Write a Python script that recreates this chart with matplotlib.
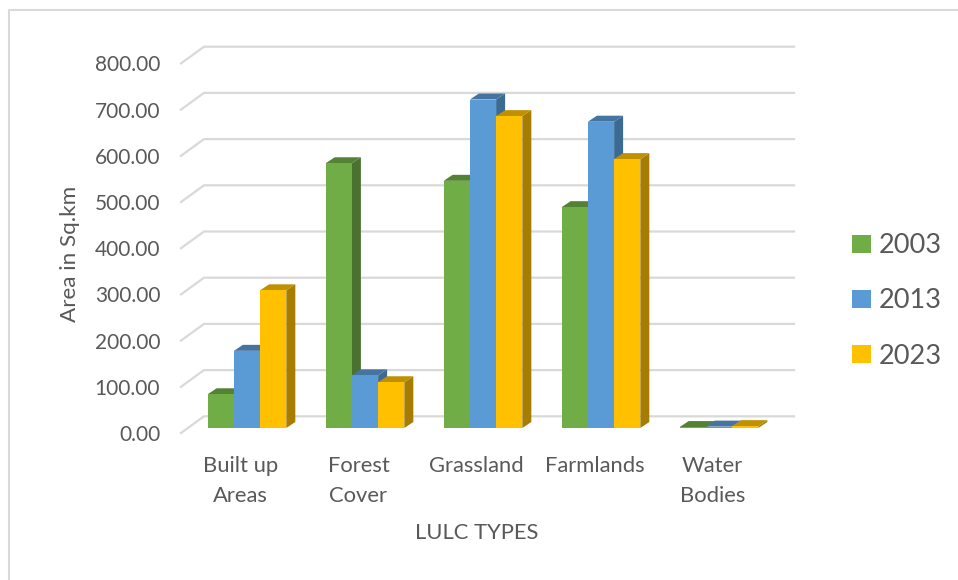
#!/usr/bin/env python3
"""Land use / land cover areas as an Excel style 3-D clustered column chart."""

import numpy as np
import matplotlib
matplotlib.use("Agg")
import matplotlib.pyplot as plt
from matplotlib.lines import Line2D
from matplotlib.patches import Polygon, Rectangle

categories = ["Built up\nAreas", "Forest\nCover", "Grassland", "Farmlands", "Water\nBodies"]
years = ["2003", "2013", "2023"]
area_2003 = [73, 573, 535, 478, 2]
area_2013 = [167, 114, 711, 663, 3]
area_2023 = [298, 99, 675, 582, 4]
y_ticks = [0, 100, 200, 300, 400, 500, 600, 700, 800]

W, H = 958, 580
PX_PER_CAT = 118.0
PX_PER_VAL = 0.462
Y_MIN = -50  # room under the floor so the front tick labels still get drawn


def dx(px):
    return px / PX_PER_CAT


def dy(px):
    return px / PX_PER_VAL


def draw_bar(ax, x, width, value, colors, z):
    front, side, top = colors
    depth_x, depth_y = dx(9), dy(6)
    ax.add_patch(Polygon([(x + width, 0), (x + width + depth_x, depth_y),
                          (x + width + depth_x, value + depth_y), (x + width, value)],
                         closed=True, facecolor=side, edgecolor="none", zorder=z))
    ax.add_patch(Polygon([(x, value), (x + depth_x, value + depth_y),
                          (x + width + depth_x, value + depth_y), (x + width, value)],
                         closed=True, facecolor=top, edgecolor="none", zorder=z))
    ax.bar(x, value, width, align="edge", color=front, edgecolor="none", zorder=z + 0.1)


def main():
    plt.rcParams["font.family"] = ["Lato", "DejaVu Sans"]
    text_color = "#595959"
    grid_color = "#D9D9D9"

    fig = plt.figure(figsize=(W / 100, H / 100), dpi=100)
    bottom_px = 428 - Y_MIN * PX_PER_VAL
    ax = fig.add_axes([188 / W, (H - bottom_px) / H, 590 / W, (800 - Y_MIN) * PX_PER_VAL / H])
    ax.patch.set_visible(False)
    for spine in ax.spines.values():
        spine.set_visible(False)

    # outer chart border, only the top and left edges are inside the picture
    fig.add_artist(Line2D([9 / W, 9 / W, 1], [0, (H - 10) / H, (H - 10) / H], color=grid_color,
                          linewidth=1.5, transform=fig.transFigure))

    # wall and floor gridlines, front corner -> back corner -> right end
    left_front = -0.5 - dx(7)
    left_back = -0.5 + dx(16)
    right_end = -0.5 + dx(606)
    for v in y_ticks:
        ax.plot([left_front, left_back, right_end], [v - dy(5), v + dy(11.7), v + dy(11.7)],
                color=grid_color, linewidth=1.6, zorder=1, clip_on=False)

    series = [
        (area_2003, ("#70AD47", "#4A7130", "#548235")),
        (area_2013, ("#5B9BD5", "#3B6A93", "#44749F")),
        (area_2023, ("#FFC000", "#A67D00", "#BF9000")),
    ]
    x = np.arange(len(categories))
    bar_w = 2 / 9
    for i, (values, colors) in enumerate(series):
        for j, value in enumerate(values):
            draw_bar(ax, x[j] - 1.5 * bar_w + i * bar_w, bar_w, value, colors, 3 + i)

    ax.set_yticks(np.array(y_ticks) - dy(5), [f"{v:.2f}" for v in y_ticks])
    ax.set_xticks(x - dx(6.5), categories, linespacing=1.62)
    ax.tick_params(axis="both", length=0, labelcolor=text_color)
    ax.tick_params(axis="y", pad=20, labelsize=15)
    ax.tick_params(axis="x", pad=3.5, labelsize=15.8)
    ax.set_xlim(-0.5, 4.5)
    ax.set_ylim(Y_MIN, 800)

    fig.text(477 / W, (H - 533) / H, "LULC TYPES", color=text_color, fontsize=15.8,
             ha="center", va="center")
    fig.text(69.5 / W, (H - 254) / H, "Area in Sq.km", color=text_color, fontsize=16.2,
             rotation=90, ha="center", va="center")

    handles = [Rectangle((0, 0), 1, 1, facecolor=s[1][0]) for s in series]
    fig.legend(handles, years, loc="center left", bbox_to_anchor=(828 / W, (H - 301) / H),
               frameon=False, fontsize=19.5, labelcolor=text_color, handlelength=0.67,
               handleheight=0.67, handletextpad=0.3, labelspacing=1.11)

    fig.savefig("out.png", dpi=100)


if __name__ == "__main__":
    main()
